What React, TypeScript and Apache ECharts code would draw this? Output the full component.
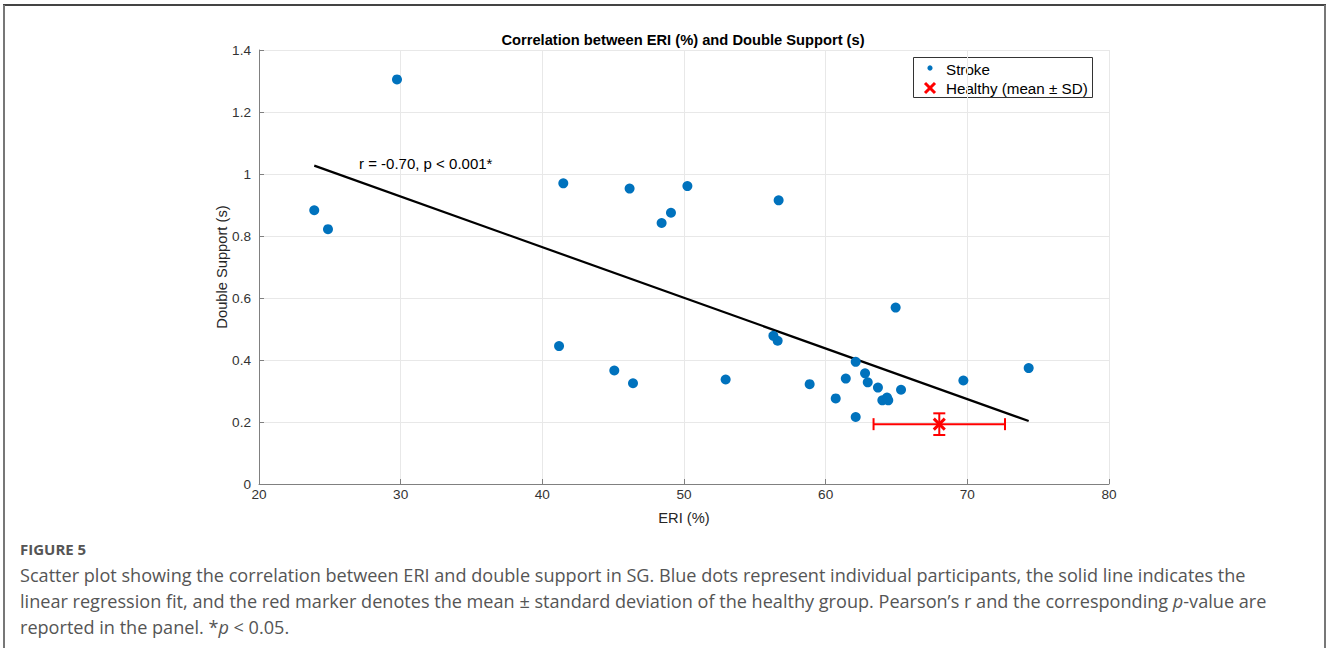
import React, { useEffect, useRef } from "react";
import * as echarts from "echarts";

const strokeERI = [
  23.9, 24.87, 29.74, 41.18, 41.48, 45.08, 46.16, 46.4, 48.42, 49.08, 50.24, 52.94, 56.31, 56.61, 56.68,
  58.87, 60.71, 61.42, 62.12, 62.12, 62.78, 62.97, 63.69, 64.0, 64.33, 64.42, 64.94, 65.32, 69.72, 74.33,
];
const strokeDS = [
  0.883, 0.822, 1.305, 0.445, 0.97, 0.366, 0.953, 0.325, 0.842, 0.875, 0.961, 0.337, 0.478, 0.462, 0.915,
  0.322, 0.276, 0.34, 0.394, 0.216, 0.357, 0.328, 0.311, 0.27, 0.279, 0.27, 0.569, 0.304, 0.334, 0.374,
];
const fitERI = [23.9, 74.33];
const fitDS = [1.027, 0.203];
const healthyMeanERI = 68.02;
const healthySdERI = 4.64;
const healthyMeanDS = 0.193;
const healthySdDS = 0.035;

const xTicks = [20, 30, 40, 50, 60, 70, 80];
const yTicks = [0, 0.2, 0.4, 0.6, 0.8, 1, 1.2, 1.4];

const titleText = "Correlation between ERI (%) and Double Support (s)";
const statText = "r = -0.70, p < 0.001*";
const captionLines = [
  "Scatter plot showing the correlation between ERI and double support in SG. Blue dots represent individual participants, the solid line indicates the",
  "linear regression fit, and the red marker denotes the mean \u00b1 standard deviation of the healthy group. Pearson\u2019s r and the corresponding {i|p}-value are",
  "reported in the panel. *{i|p} < 0.05.",
];

export default function App() {
  const ref = useRef<HTMLDivElement>(null);
  useEffect(() => {
    document.body.style.margin = "0";
    const chart = echarts.init(ref.current!, null, { renderer: "svg" });
    const font = "'Liberation Sans', Arial, sans-serif";
    const capFont = "'Open Sans', 'Noto Sans', sans-serif";
    const red = "#ff0000";
    chart.setOption({
      animation: false,
      backgroundColor: "#ffffff",
      grid: { left: 259, right: 219, top: 50, bottom: 164, containLabel: false },
      xAxis: {
        type: "value",
        min: xTicks[0],
        max: xTicks[xTicks.length - 1],
        interval: 10,
        name: "ERI (%)",
        nameLocation: "middle",
        nameGap: 26,
        nameMoveOverlap: false,
        nameTextStyle: { fontFamily: font, fontSize: 14.7, color: "#262626" },
        axisLine: { show: true, lineStyle: { color: "#808080", width: 1 } },
        axisTick: { show: true, inside: true, length: 5, lineStyle: { color: "#808080" } },
        axisLabel: { fontFamily: font, fontSize: 13.6, color: "#333", margin: 3 },
        splitLine: { show: true, lineStyle: { color: "#e8e8e8", width: 1 } },
      },
      yAxis: {
        type: "value",
        min: yTicks[0],
        max: yTicks[yTicks.length - 1],
        interval: 0.2,
        name: "Double Support (s)",
        nameLocation: "middle",
        nameGap: 30,
        nameMoveOverlap: false,
        nameRotate: 90,
        nameTextStyle: { fontFamily: font, fontSize: 14.7, color: "#262626" },
        axisLine: { show: true, lineStyle: { color: "#808080", width: 1 } },
        axisTick: { show: true, inside: true, length: 5, lineStyle: { color: "#808080" } },
        axisLabel: { fontFamily: font, fontSize: 13.6, color: "#333", margin: 8 },
        splitLine: { show: true, lineStyle: { color: "#e8e8e8", width: 1 } },
      },
      series: [
        {
          type: "line",
          name: "fit",
          data: fitERI.map((x, i) => [x, fitDS[i]]),
          showSymbol: false,
          symbol: "none",
          lineStyle: { color: "#000", width: 2.2 },
          z: 3,
        },
        {
          type: "scatter",
          name: "Stroke",
          data: strokeERI.map((x, i) => [x, strokeDS[i]]),
          symbol: "circle",
          symbolSize: 10,
          itemStyle: { color: "#0072BD", opacity: 1 },
          z: 4,
        },
        {
          type: "custom",
          name: "Healthy (mean \u00b1 SD)",
          data: [[healthyMeanERI, healthyMeanDS, healthySdERI, healthySdDS]],
          z: 5,
          renderItem: (params: any, api: any) => {
            const x = api.value(0), y = api.value(1), sx = api.value(2), sy = api.value(3);
            const c = api.coord([x, y]);
            const l = api.coord([x - sx, y]);
            const r = api.coord([x + sx, y]);
            const t = api.coord([x, y + sy]);
            const b = api.coord([x, y - sy]);
            const st = { stroke: red, lineWidth: 2 };
            const cap = 6;
            const m = 5.5;
            const ln = (x1: number, y1: number, x2: number, y2: number, s: any) => ({
              type: "line",
              shape: { x1, y1, x2, y2 },
              style: s,
            });
            return {
              type: "group",
              children: [
                ln(l[0], l[1], r[0], r[1], st),
                ln(l[0], l[1] - cap, l[0], l[1] + cap, st),
                ln(r[0], r[1] - cap, r[0], r[1] + cap, st),
                ln(t[0], t[1], b[0], b[1], st),
                ln(t[0] - cap, t[1], t[0] + cap, t[1], st),
                ln(b[0] - cap, b[1], b[0] + cap, b[1], st),
                ln(c[0] - m, c[1] - m, c[0] + m, c[1] + m, { stroke: red, lineWidth: 3 }),
                ln(c[0] - m, c[1] + m, c[0] + m, c[1] - m, { stroke: red, lineWidth: 3 }),
              ],
            };
          },
        },
      ],
      graphic: [
        { type: "line", shape: { x1: 3, y1: 5, x2: 1326, y2: 5 }, style: { stroke: "#444", lineWidth: 2 } },
        { type: "line", shape: { x1: 4, y1: 5, x2: 4, y2: 648 }, style: { stroke: "#777", lineWidth: 2 } },
        { type: "line", shape: { x1: 1325, y1: 5, x2: 1325, y2: 648 }, style: { stroke: "#777", lineWidth: 2 } },
        {
          type: "text",
          x: 683,
          y: 40,
          style: { text: titleText, font: `bold 14.7px ${font}`, fill: "#000", textAlign: "center", textVerticalAlign: "middle" },
        },
        {
          type: "text",
          x: 359,
          y: 163,
          z: 10,
          style: { text: statText, font: `15px ${font}`, fill: "#000", textAlign: "left", textVerticalAlign: "middle" },
        },
        {
          type: "group",
          z: 20,
          children: [
            { type: "rect", shape: { x: 913.5, y: 57.5, width: 179, height: 40 }, style: { fill: "#fff", stroke: "#333", lineWidth: 1 } },
            { type: "circle", shape: { cx: 930, cy: 68, r: 2.6 }, style: { fill: "#0072BD" } },
            { type: "line", shape: { x1: 925, y1: 83, x2: 935, y2: 93 }, style: { stroke: red, lineWidth: 3 } },
            { type: "line", shape: { x1: 925, y1: 93, x2: 935, y2: 83 }, style: { stroke: red, lineWidth: 3 } },
            { type: "text", x: 946, y: 69, style: { text: "Stroke", font: `15.2px ${font}`, fill: "#000", textVerticalAlign: "middle" } },
            { type: "text", x: 946, y: 88, style: { text: "Healthy (mean \u00b1 SD)", font: `15.2px ${font}`, fill: "#000", textVerticalAlign: "middle" } },
          ],
        },
        {
          type: "text",
          x: 20,
          y: 549,
          style: { text: "FIGURE 5", font: `bold 15px ${capFont}`, fill: "#555", textVerticalAlign: "middle" },
        },
        ...captionLines.map((t, i) => ({
          type: "text",
          x: 20,
          y: 575 + i * 26,
          style: {
            text: t,
            font: `18.1px ${capFont}`,
            fill: "#555",
            textVerticalAlign: "middle",
            rich: { i: { fontStyle: "italic", fontSize: 18.1, fontFamily: capFont, fill: "#555" } },
          },
        })),
      ],
    });
    return () => chart.dispose();
  }, []);
  return <div ref={ref} style={{ position: "fixed", left: 0, top: 0, width: 1328, height: 648 }} />;
}
